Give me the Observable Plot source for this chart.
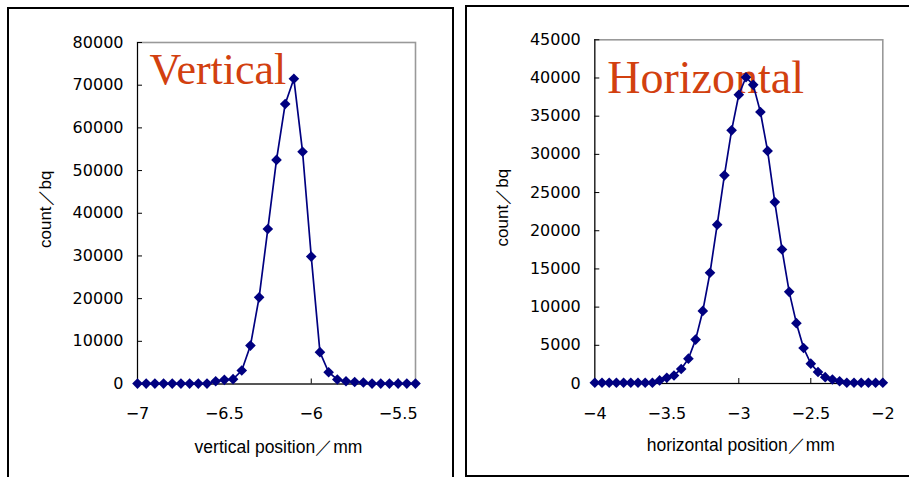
<!DOCTYPE html>
<html>
<head>
<meta charset="utf-8">
<script src="https://cdn.jsdelivr.net/npm/d3@7"></script>
<script src="https://cdn.jsdelivr.net/npm/@observablehq/plot@0.6"></script>
<style>
  html, body { margin: 0; padding: 0; background: #fff; }
  #wrap { position: relative; width: 909px; height: 477px; overflow: hidden; background: #fff; }
  .chart { position: absolute; top: 0; }
  .panel { position: absolute; border: 2px solid #000; box-sizing: border-box; pointer-events: none; }
</style>
</head>
<body>
<div id="wrap">
  <div id="left" class="chart" style="left:0px"></div>
  <div id="right" class="chart" style="left:455px"></div>
  <div class="panel" style="left:7px; top:7px; width:447px; height:500px;"></div>
  <div class="panel" style="left:465px; top:5px; width:460px; height:472px;"></div>
</div>
<script>
// ---- Vertical profile ----
const vPos = [-7, -6.95, -6.9, -6.85, -6.8, -6.75, -6.7, -6.65, -6.6, -6.55, -6.5, -6.45, -6.4, -6.35, -6.3, -6.25, -6.2, -6.15, -6.1, -6.05, -6, -5.95, -5.9, -5.85, -5.8, -5.75, -5.7, -5.65, -5.6, -5.55, -5.5, -5.45, -5.4];
const vCount = [100, 100, 100, 100, 100, 100, 100, 100, 100, 650, 980, 1130, 3160, 9000, 20300, 36300, 52500, 65600, 71500, 54400, 29850, 7450, 2760, 1050, 650, 470, 350, 100, 100, 100, 100, 100, 100];
const vXTicks = [-7, -6.5, -6, -5.5];
const vYTicks = [0, 10000, 20000, 30000, 40000, 50000, 60000, 70000, 80000];
const vTitle = "Vertical";
const vXLabel = "vertical position／mm";

// ---- Horizontal profile ----
const hPos = [-4, -3.95, -3.9, -3.85, -3.8, -3.75, -3.7, -3.65, -3.6, -3.55, -3.5, -3.45, -3.4, -3.35, -3.3, -3.25, -3.2, -3.15, -3.1, -3.05, -3, -2.95, -2.9, -2.85, -2.8, -2.75, -2.7, -2.65, -2.6, -2.55, -2.5, -2.45, -2.4, -2.35, -2.3, -2.25, -2.2, -2.15, -2.1, -2.05, -2];
const hCount = [100, 100, 100, 100, 100, 100, 100, 100, 100, 400, 750, 1050, 1900, 3250, 5750, 9500, 14500, 20800, 27250, 33150, 37800, 40100, 39100, 35550, 30450, 23750, 17550, 12000, 7900, 4650, 2600, 1500, 830, 520, 300, 100, 100, 100, 100, 100, 100];
const hXTicks = [-4, -3.5, -3, -2.5, -2];
const hYTicks = [0, 5000, 10000, 15000, 20000, 25000, 30000, 35000, 40000, 45000];
const hTitle = "Horizontal";
const hXLabel = "horizontal position／mm";

const yLabel = "count／bq";

function makeChart(cfg) {
  const data = cfg.pos.map((x, i) => ({x, y: cfg.count[i]}));
  const plotW = cfg.width - cfg.ml - cfg.mr;
  const plotH = cfg.height - cfg.mt - cfg.mb;
  return Plot.plot({
    width: cfg.width,
    height: cfg.height,
    marginLeft: cfg.ml,
    marginRight: cfg.mr,
    marginTop: cfg.mt,
    marginBottom: cfg.mb,
    style: {fontFamily: "'DejaVu Sans', sans-serif", fontSize: "16px", background: "transparent", overflow: "visible", color: "#000"},
    x: {domain: cfg.xDomain, axis: null},
    y: {domain: cfg.yDomain, axis: null},
    marks: [
      Plot.frame({stroke: "#999", strokeWidth: 1.6}),
      Plot.ruleY([cfg.yDomain[0]], {stroke: "#000", strokeWidth: 1}),
      Plot.ruleX([cfg.xDomain[0]], {stroke: "#000", strokeWidth: 1}),
      Plot.tickY(cfg.yTicks, {y: d => d, stroke: "#000", insetRight: plotW - 5}),
      Plot.tickX(cfg.xTicks, {x: d => d, stroke: "#000", insetTop: plotH - 5}),
      Plot.axisY(cfg.yTicks, {tickSize: 0, tickPadding: 14, tickFormat: d => String(d), fontSize: 16, label: null}),
      Plot.axisX(cfg.xTicks, {tickSize: 0, tickPadding: 24, tickFormat: d => String(d).replace("-", "\u2212"), fontSize: 16, label: null}),
      Plot.text([yLabel], {text: d => d, frameAnchor: "left", rotate: -90, dx: cfg.ylDx, dy: -4, fontSize: 17, fontFamily: "'Liberation Sans', Arial, sans-serif", textAnchor: "middle", lineAnchor: "middle"}),
      Plot.text([cfg.xLabel], {text: d => d, frameAnchor: "bottom", dx: 2, dy: cfg.xlDy, fontSize: 17.5, fontFamily: "'Liberation Sans', Arial, sans-serif", textAnchor: "middle", lineAnchor: "middle"}),
      Plot.text([cfg.title], {text: d => d, frameAnchor: "top-left", dx: cfg.tDx, dy: cfg.tDy, fontSize: cfg.tSize, fontFamily: "'Liberation Serif', 'Times New Roman', serif", fill: "#D2400F", textAnchor: "start", lineAnchor: "bottom"}),
      Plot.line(data, {x: "x", y: "y", stroke: "#000080", strokeWidth: 1.7}),
      Plot.dot(data, {x: "x", y: "y", symbol: "diamond2", r: 4.8, fill: "#000080", stroke: "none"})
    ]
  });
}

document.getElementById("left").append(makeChart({
  pos: vPos, count: vCount, xTicks: vXTicks, yTicks: vYTicks,
  xDomain: [-7, -5.4], yDomain: [0, 80000],
  width: 455, height: 477, ml: 137, mr: 40, mt: 42, mb: 93.5,
  title: vTitle, tDx: 12, tDy: 41, tSize: 44,
  xLabel: vXLabel, xlDy: 63.5, ylDx: -92
}));

document.getElementById("right").append(makeChart({
  pos: hPos, count: hCount, xTicks: hXTicks, yTicks: hYTicks,
  xDomain: [-4, -2], yDomain: [0, 45000],
  width: 454, height: 477, ml: 139.3, mr: 26.7, mt: 39.3, mb: 94,
  title: hTitle, tDx: 12.4, tDy: 53.4, tSize: 46,
  xLabel: hXLabel, xlDy: 62, ylDx: -92
}));
</script>
</body>
</html>
